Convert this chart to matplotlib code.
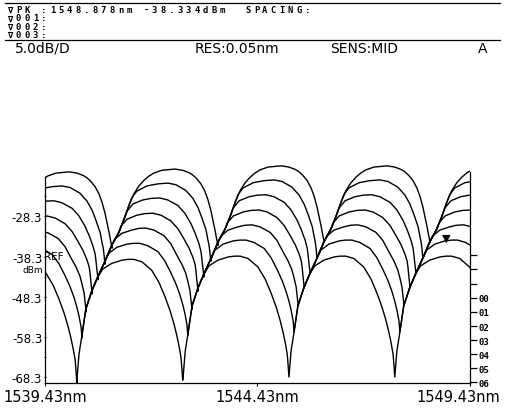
import matplotlib
matplotlib.use("Agg")
import matplotlib.pyplot as plt
from matplotlib.lines import Line2D
from matplotlib.transforms import blended_transform_factory

# readout text
header_rows = ["\u2207PK :1548.878nm -38.334dBm  SPACING:",
               "\u2207001:", "\u2207002:", "\u2207003:"]
status_text = ["5.0dB/D", "RES:0.05nm", "SENS:MID", "A"]
peak_wl = 1548.878
peak_dbm = -38.334

# axes
x_range = [1539.43, 1549.43]
x_ticks = [1539.43, 1544.43, 1549.43]
x_labels = ["1539.43nm", "1544.43nm", "1549.43nm"]
y_ticks = [-28.3, -38.3, -48.3, -58.3, -68.3]
y_minor = [-23.3, -33.3, -43.3, -53.3, -63.3]
y_range = [-69.8, -14.0]
right_ticks = [-37.9, -41.4, -45.1, -48.6, -52.1, -55.6, -59.1, -62.6, -66.1, -69.6]
right_labels = ["", "", "", "00", "01", "02", "03", "04", "05", "06"]

# each period starts at a dip of the deepest trace (nm); small level drift per period (dB)
period_start = [1537.69, 1540.18, 1542.68, 1545.17, 1547.66]
period_shift = [-1.5, -0.8, 0.0, 0.0, 0.0]

# one period of every trace: offset from period start (nm) and level (dBm)
t1_dx = [0.82, 0.99, 1.11, 1.22, 1.34, 1.46, 1.58, 1.69, 1.81, 2.00, 2.31, 2.49, 2.64,
         2.73, 2.82, 2.92, 3.01, 3.08, 3.15, 3.20, 3.25, 3.29, 3.32]
t1_db = [-34.7, -31.4, -28.2, -24.9, -21.9, -19.9, -18.5, -17.5, -16.7, -16.0, -15.7, -16.0, -16.6,
         -17.2, -18.1, -19.4, -21.2, -23.2, -25.9, -28.4, -30.9, -33.2, -34.7]

t2_dx = [0.66, 0.82, 0.99, 1.11, 1.22, 1.29, 1.41, 1.65, 1.90, 2.14, 2.33, 2.56, 2.73,
         2.85, 2.94, 3.04, 3.08, 3.11, 3.13, 3.15]
t2_db = [-38.7, -34.7, -31.4, -28.2, -24.9, -22.9, -21.2, -19.9, -19.4, -19.2, -19.6, -21.0, -23.0,
         -25.3, -27.8, -30.9, -33.2, -34.7, -36.4, -38.7]

t3_dx = [0.49, 0.66, 0.82, 0.99, 1.11, 1.18, 1.32, 1.55, 1.75, 1.95, 2.14, 2.38, 2.54,
         2.68, 2.78, 2.87, 2.92, 2.94, 2.96, 2.99]
t3_db = [-42.6, -38.7, -34.7, -31.4, -28.2, -26.2, -24.4, -23.4, -23.0, -22.9, -23.4, -24.8, -26.7,
         -29.2, -31.6, -34.2, -36.2, -37.9, -39.9, -42.6]

t4_dx = [0.35, 0.49, 0.66, 0.82, 0.99, 1.04, 1.18, 1.41, 1.60, 1.79, 1.98, 2.21, 2.38,
         2.52, 2.64, 2.73, 2.78, 2.80, 2.82, 2.85]
t4_db = [-46.1, -42.6, -38.7, -34.7, -31.4, -29.9, -28.2, -27.2, -26.8, -26.7, -27.2, -28.6, -30.6,
         -33.1, -35.4, -37.7, -39.4, -40.9, -43.1, -46.1]

t5_dx = [0.21, 0.35, 0.49, 0.66, 0.82, 0.89, 1.06, 1.29, 1.45, 1.62, 1.81, 2.05, 2.21,
         2.35, 2.47, 2.56, 2.61, 2.66, 2.68, 2.71]
t5_db = [-50.6, -46.1, -42.6, -38.7, -34.7, -33.2, -31.7, -30.9, -30.5, -30.4, -30.9, -32.3, -34.3,
         -37.1, -39.4, -41.6, -43.6, -45.9, -47.9, -50.6]

t6_dx = [0.12, 0.21, 0.35, 0.49, 0.66, 0.75, 0.94, 1.18, 1.33, 1.48, 1.67, 1.91, 2.07,
         2.21, 2.33, 2.42, 2.49, 2.54, 2.59, 2.61]
t6_db = [-57.1, -50.6, -46.1, -42.6, -38.7, -36.7, -35.2, -34.4, -34.2, -34.2, -34.8, -36.3, -38.6,
         -41.5, -44.3, -46.9, -49.4, -51.6, -54.4, -57.1]

t7_dx = [0.0, 0.05, 0.12, 0.21, 0.35, 0.49, 0.61, 0.82, 1.06, 1.20, 1.34, 1.53, 1.76,
         1.93, 2.07, 2.19, 2.28, 2.35, 2.40, 2.45, 2.47, 2.49]
t7_db = [-68.3, -61.8, -57.1, -50.6, -46.1, -42.6, -40.6, -39.2, -38.4, -38.2, -38.2, -38.8, -40.9,
         -43.9, -47.4, -50.9, -54.1, -57.1, -59.6, -62.6, -65.3, -68.3]

traces = [(t1_dx, t1_db), (t2_dx, t2_db), (t3_dx, t3_db), (t4_dx, t4_db),
          (t5_dx, t5_db), (t6_dx, t6_db), (t7_dx, t7_db)]

fig = plt.figure(figsize=(5.05, 4.1), dpi=100)
ax = fig.add_axes([0.0891, 0.0634, 0.8416, 0.5463])

for dx, db in traces:
    xs, ys = [], []
    for start, shift in zip(period_start, period_shift):
        xs += [start + d for d in dx]
        ys += [v + shift for v in db]
    ax.plot(xs, ys, color="black", lw=1.0, solid_joinstyle="round")

ax.set_xlim(x_range)
ax.set_ylim(y_range)

ax.spines["top"].set_visible(False)
for s in ["left", "right", "bottom"]:
    ax.spines[s].set_linewidth(0.9)
ax.spines["left"].set_bounds(y_range[0], -18.6)
ax.spines["right"].set_bounds(y_range[0], -17.2)

# wavelength labels: start, centre, stop
ax.set_xticks(x_ticks)
ax.set_xticklabels([])
ax.tick_params(axis="x", length=2)
xtrans = blended_transform_factory(ax.transData, ax.transAxes)
label_shift = [0, 0, 22]
label_ha = ["center", "center", "right"]
for tick, lab, sh, ha in zip(x_ticks, x_labels, label_shift, label_ha):
    ax.annotate(lab, xy=(tick, 0), xycoords=xtrans, xytext=(sh, -4), textcoords="offset points",
                ha=ha, va="top", fontsize=10.5)

ax.set_yticks(y_ticks)
ax.set_yticklabels([f"{v:.1f}" for v in y_ticks], fontsize=8.5)
ax.set_yticks(y_minor, minor=True)
ax.tick_params(axis="y", which="both", length=2, pad=1, direction="inout")

# trace number ticks on the right frame
rax = ax.twinx()
rax.set_ylim(y_range)
rax.set_yticks(right_ticks)
rax.set_yticklabels(right_labels, fontsize=6.5, family="DejaVu Sans Mono", fontweight="bold")
rax.tick_params(axis="y", length=5, pad=1, width=0.9)
for s in rax.spines.values():
    s.set_visible(False)

trans = blended_transform_factory(ax.transAxes, ax.transData)
ax.text(-0.002, -38.1, "REF", transform=trans, fontsize=7.5, ha="left", va="center")
ax.text(-0.004, -41.4, "dBm", transform=trans, fontsize=6.5, ha="right", va="center")

# peak marker
ax.annotate("\u25BC", xy=(peak_wl, peak_dbm), xytext=(0, 14), textcoords="offset points",
            ha="center", va="center", fontsize=8)

# header box, fixed character grid like the instrument screen
fig.add_artist(Line2D([0.01, 0.99], [1 - 4 / 410, 1 - 4 / 410], color="black", lw=0.9))
fig.add_artist(Line2D([0.01, 0.99], [1 - 41 / 410, 1 - 41 / 410], color="black", lw=0.9))
for i, row in enumerate(header_rows):
    for j, ch in enumerate(row):
        if ch == " ":
            continue
        fig.text((10 + 8.5 * j) / 505, 1 - (10.5 + 8.3 * i) / 410, ch, fontsize=6.4,
                 family="DejaVu Sans Mono", fontweight="bold", va="center", ha="center")

status_x = [15, 195, 330, 478]
for txt, x in zip(status_text, status_x):
    fig.text(x / 505, 1 - 49 / 410, txt, fontsize=10, va="center", ha="left")

fig.savefig("out.png", dpi=100)
